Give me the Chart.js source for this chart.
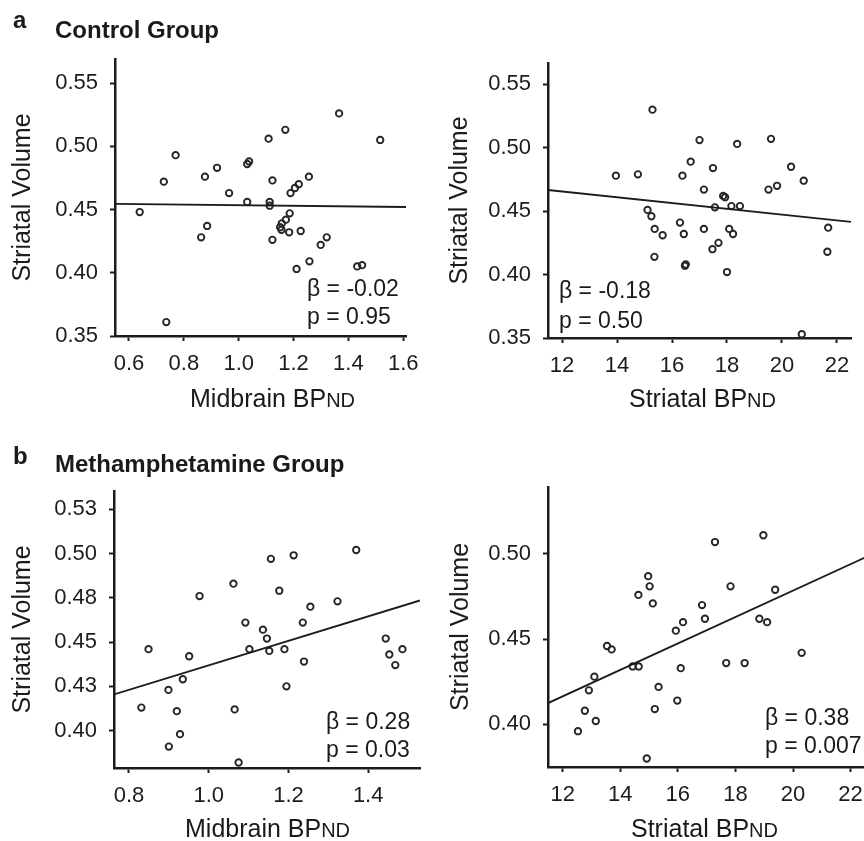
<!DOCTYPE html>
<html>
<head>
<meta charset="utf-8">
<script src="https://cdn.jsdelivr.net/npm/chart.js@4.4.0/dist/chart.umd.min.js"></script>
<style>
  html, body { margin: 0; padding: 0; background: #fff; }
  body { width: 864px; height: 841px; overflow: hidden; position: relative;
         font-family: "Liberation Sans", Arial, sans-serif; color: #1a1a1a; }
  canvas { position: absolute; }
  .head { position: absolute; font-weight: bold; font-size: 24px; line-height: 24px; white-space: nowrap; }
  .xt { position: absolute; font-size: 25px; line-height: 25px; white-space: nowrap; }
  .xt small { font-size: 20px; }
  .stat { position: absolute; font-size: 23px; line-height: 28px; white-space: nowrap; }
</style>
</head>
<body>
<canvas id="ctrlMid" width="432" height="400" style="left:0;top:0"></canvas>
<canvas id="ctrlStr" width="432" height="400" style="left:432px;top:0"></canvas>
<canvas id="methMid" width="432" height="421" style="left:0;top:420px"></canvas>
<canvas id="methStr" width="460" height="421" style="left:432px;top:420px"></canvas>

<div class="head" style="left:13px;top:8px">a</div>
<div class="head" style="left:55px;top:18px">Control Group</div>
<div class="head" style="left:13px;top:444px">b</div>
<div class="head" style="left:55px;top:452px">Methamphetamine Group</div>

<div class="xt" style="left:190px;top:386px">Midbrain BP<small>ND</small></div>
<div class="xt" style="left:629px;top:386px">Striatal BP<small>ND</small></div>
<div class="xt" style="left:185px;top:816px">Midbrain BP<small>ND</small></div>
<div class="xt" style="left:631px;top:816px">Striatal BP<small>ND</small></div>

<div class="stat" style="left:307px;top:274px">β = -0.02<br>p = 0.95</div>
<div class="stat" style="left:559px;top:275px;line-height:30px">β = -0.18<br>p = 0.50</div>
<div class="stat" style="left:326px;top:707px">β = 0.28<br>p = 0.03</div>
<div class="stat" style="left:765px;top:703px">β = 0.38<br>p = 0.007</div>

<script>
// control group, midbrain BPND vs striatal volume
const ctrlMidBP = [0.639, 0.736, 0.727, 0.770, 0.863, 0.885, 0.877, 0.921, 0.965, 1.031, 1.031, 1.038, 1.109,
  1.123, 1.113, 1.113, 1.123, 1.170, 1.151, 1.156, 1.157, 1.172, 1.186, 1.184, 1.189, 1.205, 1.219, 1.256,
  1.226, 1.211, 1.258, 1.299, 1.321, 1.366, 1.432, 1.450, 1.516];
const ctrlMidVol = [0.448, 0.361, 0.472, 0.493, 0.428, 0.437, 0.476, 0.483, 0.463, 0.456, 0.486, 0.488, 0.506,
  0.473, 0.456, 0.453, 0.426, 0.513, 0.436, 0.434, 0.439, 0.442, 0.447, 0.432, 0.463, 0.467, 0.470, 0.476,
  0.433, 0.403, 0.409, 0.422, 0.428, 0.526, 0.405, 0.406, 0.505];
const ctrlMidFitX = [0.549, 1.61];
const ctrlMidFitY = [0.4544, 0.4520];

// control group, striatal BPND vs striatal volume
const ctrlStrBP = [13.96, 14.76, 15.29, 15.11, 15.25, 15.37, 15.66, 15.36, 16.29, 16.38, 16.43, 16.50, 16.47,
  16.68, 17.00, 17.16, 17.16, 17.49, 17.47, 17.69, 17.56, 17.86, 17.93, 18.00, 18.08, 18.22, 18.16, 18.47,
  18.37, 19.51, 19.60, 19.82, 20.33, 20.79, 20.72, 21.68, 21.65];
const ctrlStrVol = [0.478, 0.479, 0.530, 0.451, 0.446, 0.436, 0.431, 0.414, 0.441, 0.478, 0.432, 0.408, 0.407,
  0.489, 0.506, 0.467, 0.436, 0.484, 0.420, 0.425, 0.453, 0.462, 0.461, 0.402, 0.436, 0.432, 0.454, 0.454,
  0.503, 0.467, 0.507, 0.470, 0.485, 0.474, 0.353, 0.437, 0.418];
const ctrlStrFitX = [11.49, 22.51];
const ctrlStrFitY = [0.4667, 0.4416];

// methamphetamine group, midbrain BPND vs striatal volume
const methMidBP = [0.831, 0.849, 0.899, 0.920, 0.900, 0.928, 0.935, 0.951, 0.977, 1.062, 1.065, 1.075, 1.092,
  1.102, 1.136, 1.146, 1.152, 1.156, 1.177, 1.190, 1.195, 1.213, 1.236, 1.239, 1.255, 1.323, 1.370, 1.444,
  1.453, 1.468, 1.486];
const methMidVol = [0.413, 0.446, 0.423, 0.411, 0.391, 0.398, 0.429, 0.442, 0.476, 0.483, 0.412, 0.382, 0.461,
  0.446, 0.457, 0.452, 0.445, 0.497, 0.479, 0.446, 0.425, 0.499, 0.461, 0.439, 0.470, 0.473, 0.502, 0.452,
  0.443, 0.437, 0.446];
const methMidFitX = [0.7624, 1.530];
const methMidFitY = [0.4204, 0.4735];

// methamphetamine group, striatal BPND vs striatal volume
const methStrBP = [12.53, 12.77, 12.91, 13.10, 13.15, 13.54, 13.70, 14.43, 14.64, 14.63, 14.92, 14.97, 15.02,
  15.13, 15.20, 15.33, 15.93, 16.18, 15.98, 16.10, 16.84, 16.94, 17.29, 17.68, 17.83, 18.32, 18.83, 19.10,
  18.97, 19.38, 20.30];
const methStrVol = [0.396, 0.408, 0.420, 0.428, 0.402, 0.446, 0.444, 0.434, 0.434, 0.476, 0.380, 0.487, 0.481,
  0.471, 0.409, 0.422, 0.455, 0.460, 0.414, 0.433, 0.470, 0.462, 0.507, 0.436, 0.481, 0.436, 0.462, 0.460,
  0.511, 0.479, 0.442];
const methStrFitX = [11.49, 22.5];
const methStrFitY = [0.4125, 0.4979];

// ticks
const midXTicksA = [0.6, 0.8, 1.0, 1.2, 1.4, 1.6];
const midXLabelsA = ["0.6", "0.8", "1.0", "1.2", "1.4", "1.6"];
const midXTicksB = [0.8, 1.0, 1.2, 1.4];
const midXLabelsB = ["0.8", "1.0", "1.2", "1.4"];
const strXTicks = [12, 14, 16, 18, 20, 22];
const strXLabels = ["12", "14", "16", "18", "20", "22"];
const ctrlVolTicks = [0.35, 0.40, 0.45, 0.50, 0.55];
const ctrlVolLabels = ["0.35", "0.40", "0.45", "0.50", "0.55"];
const methMidVolTicks = [0.400, 0.425, 0.450, 0.475, 0.500, 0.525];
const methMidVolLabels = ["0.40", "0.43", "0.45", "0.48", "0.50", "0.53"];
const methStrVolTicks = [0.40, 0.45, 0.50];
const methStrVolLabels = ["0.40", "0.45", "0.50"];

const INK = "#1c1c1c";
Chart.defaults.font.family = '"Liberation Sans", Arial, sans-serif';
Chart.defaults.color = INK;

function pts(xs, ys) {
  return xs.map((x, i) => ({ x: x, y: ys[i] }));
}

function axis(min, max, ticks, labels, pad, extra) {
  return Object.assign({
    type: "linear",
    min: min,
    max: max,
    afterBuildTicks: s => { s.ticks = ticks.map(v => ({ value: v })); },
    ticks: {
      autoSkip: false,
      maxRotation: 0,
      padding: pad,
      font: { size: 22 },
      color: INK,
      callback: (v, i) => labels[i]
    },
    grid: { drawOnChartArea: false, drawTicks: true, tickLength: 5, tickWidth: 2, tickColor: INK },
    border: { display: true, color: INK, width: 2.5 }
  }, extra);
}

function makePanel(id, p) {
  new Chart(document.getElementById(id), {
    type: "scatter",
    data: {
      datasets: [
        {
          data: pts(p.fitX, p.fitY),
          showLine: true,
          borderColor: INK,
          borderWidth: 1.8,
          pointRadius: 0,
          fill: false
        },
        {
          data: pts(p.x, p.y),
          pointRadius: 3.2,
          pointBorderWidth: 1.9,
          pointBorderColor: "#262626",
          pointBackgroundColor: "rgba(0,0,0,0)"
        }
      ]
    },
    options: {
      responsive: false,
      animation: false,
      events: [],
      layout: { padding: p.pad },
      plugins: { legend: { display: false }, tooltip: { enabled: false } },
      scales: {
        x: axis(p.xr[0], p.xr[1], p.xt, p.xl, 10, {
          afterFit: s => { s.height = p.xh; }
        }),
        y: axis(p.yr[0], p.yr[1], p.yt, p.yl, 12, {
          afterFit: s => { s.width = p.yw; },
          title: {
            display: true,
            text: "Striatal Volume",
            font: { size: 25 },
            color: INK,
            padding: { top: p.titleOff, bottom: 0 }
          }
        })
      }
    }
  });
}

makePanel("ctrlMid", {
  x: ctrlMidBP, y: ctrlMidVol, fitX: ctrlMidFitX, fitY: ctrlMidFitY,
  xr: [0.549, 1.61], yr: [0.35, 0.569],
  xt: midXTicksA, xl: midXLabelsA, yt: ctrlVolTicks, yl: ctrlVolLabels,
  pad: { top: 59, right: 26, left: 0, bottom: 0 }, yw: 115, xh: 64, titleOff: 8
});
makePanel("ctrlStr", {
  x: ctrlStrBP, y: ctrlStrVol, fitX: ctrlStrFitX, fitY: ctrlStrFitY,
  xr: [11.49, 22.51], yr: [0.35, 0.5668],
  xt: strXTicks, xl: strXLabels, yt: ctrlVolTicks, yl: ctrlVolLabels,
  pad: { top: 63, right: 13, left: 0, bottom: 0 }, yw: 116, xh: 62, titleOff: 13
});
makePanel("methMid", {
  x: methMidBP, y: methMidVol, fitX: methMidFitX, fitY: methMidFitY,
  xr: [0.7624, 1.530], yr: [0.3789, 0.5353],
  xt: midXTicksB, xl: midXLabelsB, yt: methMidVolTicks, yl: methMidVolLabels,
  pad: { top: 71, right: 12, left: 0, bottom: 0 }, yw: 114, xh: 73, titleOff: 8
});
makePanel("methStr", {
  x: methStrBP, y: methStrVol, fitX: methStrFitX, fitY: methStrFitY,
  xr: [11.49, 22.5], yr: [0.375, 0.5393],
  xt: strXTicks, xl: strXLabels, yt: methStrVolTicks, yl: methStrVolLabels,
  pad: { top: 67, right: 27, left: 0, bottom: 0 }, yw: 116, xh: 74, titleOff: 14
});
</script>
</body>
</html>
